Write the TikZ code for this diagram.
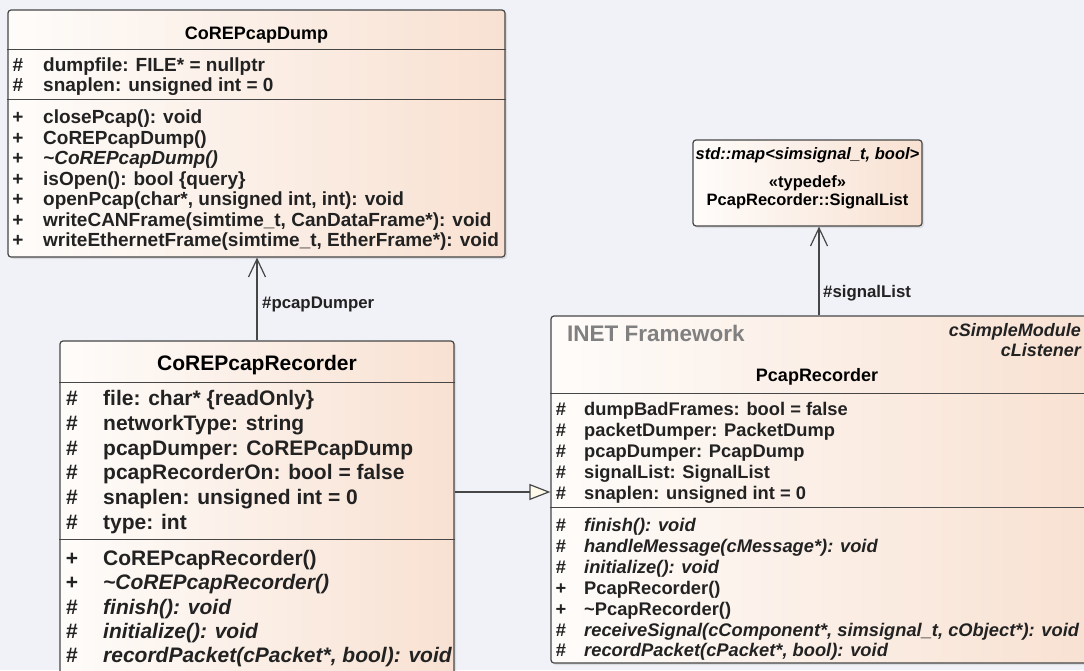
\documentclass[tikz,border=0pt]{standalone}
\usepackage{fontspec}
\setmainfont{Liberation Sans}
\usetikzlibrary{arrows.meta,shadows}

\definecolor{canvas}{RGB}{240,242,247}
\definecolor{boxL}{RGB}{254,252,250}
\definecolor{boxR}{RGB}{248,225,210}
\definecolor{edge}{RGB}{70,70,70}
\definecolor{ink}{RGB}{34,34,34}
\definecolor{framegray}{RGB}{128,128,128}
\definecolor{trifill}{RGB}{253,250,236}

% bold face at a given pixel size
\newcommand{\fs}[1]{\fontsize{#1}{#1}\selectfont\bfseries}

% one member row: name, baseline y, visibility mark, text
\newcommand{\umlrow}[4]{%
  \node[rowtxt] (#1-v) at (\visx,#2) {#3};
  \node[rowtxt,anchor=base west] (#1) at (\txtx,#2) {#4};}

\begin{document}
\begin{tikzpicture}[x=1pt,y=-1pt,
  classbox/.style={draw=edge, line width=1.2pt, rounded corners=3pt,
    left color=boxL, right color=boxR, inner sep=0pt,
    drop shadow={shadow xshift=2pt, shadow yshift=-2pt, opacity=0.18}},
  sepline/.style={draw=edge, line width=1.2pt},
  rowtxt/.style={inner sep=0pt, anchor=base, text=ink, font=\rowfont},
  titletxt/.style={inner sep=0pt, anchor=base, text=black},
  lbl/.style={inner sep=0pt, anchor=west, text=ink, font=\fs{16.8}},
  assoc/.style={draw=edge, line width=1.2pt,
    -{Straight Barb[length=18pt, width=17pt, line width=1.2pt]}},
  gen/.style={draw=edge, line width=1.2pt,
    -{Triangle[length=21pt, width=16pt, fill=trifill, line width=1.2pt]}}]

\useasboundingbox (0,0) rectangle (1084,670);
\fill[canvas] (0,0) rectangle (1084,670);

% ---------- CoREPcapDump ----------
\node[classbox, minimum width=497pt, minimum height=247pt] (dump) at (256.5,133.5) {};
\draw[sepline] ([yshift=-40pt]dump.north west) -- ([yshift=-40pt]dump.north east);
\draw[sepline] ([yshift=-90pt]dump.north west) -- ([yshift=-90pt]dump.north east);
\node[titletxt, font=\fs{18}] (dump-title) at (256.5,39.5) {CoREPcapDump};
\def\visx{18}\def\txtx{43}\def\rowfont{\fs{19}}
\umlrow{dump-a1}{71.5}{\#}{dumpfile: FILE* = nullptr}
\umlrow{dump-a2}{91.5}{\#}{snaplen: unsigned int = 0}
\umlrow{dump-m1}{123.5}{+}{closePcap(): void}
\umlrow{dump-m2}{144}{+}{CoREPcapDump()}
\umlrow{dump-m3}{164.5}{+}{\itshape\textasciitilde CoREPcapDump()}
\umlrow{dump-m4}{185}{+}{isOpen(): bool \{query\}}
\umlrow{dump-m5}{205.5}{+}{openPcap(char*, unsigned int, int): void}
\umlrow{dump-m6}{226}{+}{writeCANFrame(simtime\_t, CanDataFrame*): void}
\umlrow{dump-m7}{246.5}{+}{writeEthernetFrame(simtime\_t, EtherFrame*): void}

% ---------- typedef SignalList ----------
\node[classbox, minimum width=229pt, minimum height=86pt] (tdef) at (807.5,183) {};
\node[titletxt, font=\fs{16.5}\itshape] (tdef-map) at (807.5,159) {std::map<simsignal\_t, bool>};
\node[titletxt, font=\fs{16.5}] (tdef-st) at (807.5,187) {«typedef»};
\node[titletxt, font=\fs{16.5}] (tdef-name) at (807.5,205) {PcapRecorder::SignalList};

% ---------- CoREPcapRecorder ----------
\node[classbox, minimum width=394pt, minimum height=359pt] (rec) at (257,520.5) {};
\draw[sepline] ([yshift=-42pt]rec.north west) -- ([yshift=-42pt]rec.north east);
\draw[sepline] ([yshift=-199pt]rec.north west) -- ([yshift=-199pt]rec.north east);
\node[titletxt, font=\fs{21}] (rec-title) at (257,370.5) {CoREPcapRecorder};
\def\visx{72}\def\txtx{103}\def\rowfont{\fs{21}}
\umlrow{rec-a1}{405.5}{\#}{file: char* \{readOnly\}}
\umlrow{rec-a2}{430.3}{\#}{networkType: string}
\umlrow{rec-a3}{455.1}{\#}{pcapDumper: CoREPcapDump}
\umlrow{rec-a4}{479.9}{\#}{pcapRecorderOn: bool = false}
\umlrow{rec-a5}{504.7}{\#}{snaplen: unsigned int = 0}
\umlrow{rec-a6}{529.5}{\#}{type: int}
\umlrow{rec-m1}{565.5}{+}{CoREPcapRecorder()}
\umlrow{rec-m2}{589.8}{+}{\itshape\textasciitilde CoREPcapRecorder()}
\umlrow{rec-m3}{614}{\#}{\itshape finish(): void}
\umlrow{rec-m4}{638.3}{\#}{\itshape initialize(): void}
\umlrow{rec-m5}{662.5}{\#}{\itshape recordPacket(cPacket*, bool): void}

% ---------- PcapRecorder (INET) ----------
\node[classbox, minimum width=539pt, minimum height=347pt] (pcap) at (820.5,489.5) {};
\draw[sepline] ([yshift=-78pt]pcap.north west) -- ([yshift=-78pt]pcap.north east);
\draw[sepline] ([yshift=-192pt]pcap.north west) -- ([yshift=-192pt]pcap.north east);
\node[inner sep=0pt, anchor=base west, text=framegray, font=\fs{22.5}] (pcap-pkg) at (567,341) {INET Framework};
\node[inner sep=0pt, anchor=base east, text=ink, font=\fs{18}\itshape] (pcap-b1) at (1081,336) {cSimpleModule};
\node[inner sep=0pt, anchor=base east, text=ink, font=\fs{18}\itshape] (pcap-b2) at (1081,356) {cListener};
\node[titletxt, font=\fs{18}] (pcap-title) at (817,381.5) {PcapRecorder};
\def\visx{561}\def\txtx{584}\def\rowfont{\fs{18.3}}
\umlrow{pcap-a1}{415}{\#}{dumpBadFrames: bool = false}
\umlrow{pcap-a2}{436}{\#}{packetDumper: PacketDump}
\umlrow{pcap-a3}{457}{\#}{pcapDumper: PcapDump}
\umlrow{pcap-a4}{478}{\#}{signalList: SignalList}
\umlrow{pcap-a5}{499}{\#}{snaplen: unsigned int = 0}
\umlrow{pcap-m1}{531.5}{\#}{\itshape finish(): void}
\umlrow{pcap-m2}{552.4}{\#}{\itshape handleMessage(cMessage*): void}
\umlrow{pcap-m3}{573.3}{\#}{\itshape initialize(): void}
\umlrow{pcap-m4}{594.2}{+}{PcapRecorder()}
\umlrow{pcap-m5}{615.1}{+}{\textasciitilde PcapRecorder()}
\umlrow{pcap-m6}{636}{\#}{\itshape receiveSignal(cComponent*, simsignal\_t, cObject*): void}
\umlrow{pcap-m7}{656.9}{\#}{\itshape recordPacket(cPacket*, bool): void}

% ---------- connectors ----------
\draw[assoc] (rec.north) -- (rec.north |- dump.south);
\node[lbl] (dumper-lbl) at (262,304) {\#pcapDumper};

\coordinate (sigx) at (819,270);
\draw[assoc] (pcap.north -| sigx) -- (tdef.south -| sigx);
\node[lbl] (signal-lbl) at (823,293) {\#signalList};

\coordinate (genY) at (500,492);
\draw[gen] (rec.east |- genY) -- (pcap.west |- genY);
\end{tikzpicture}
\end{document}
